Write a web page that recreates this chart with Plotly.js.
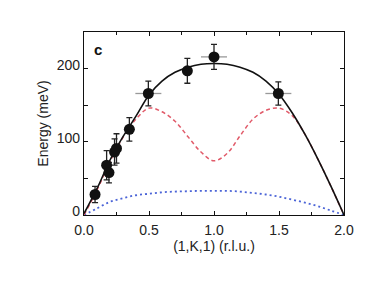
<!DOCTYPE html>
<html><head><meta charset="utf-8">
<script src="https://cdn.plot.ly/plotly-3.0.1.min.js"></script>
<style>body{margin:0;background:#fff}#plot{width:388px;height:291px}</style>
</head><body><div id="plot"></div>
<script>
// Data points
const ptK   = [0.085, 0.174, 0.192, 0.235, 0.25, 0.349, 0.495, 0.795, 1.0, 1.495];
const ptE   = [28, 68, 58, 86, 91, 117, 166, 197, 216, 166];
const ptErr = [11, 20, 14, 18, 20, 16, 17, 17, 17, 16];
const ptXErr= [0, 0, 0, 0, 0, 0, 0.1, 0, 0.1, 0.1];

// Curves
const curveK   = [0,0.1,0.2,0.3,0.4,0.5,0.6,0.7,0.8,0.9,1.0,1.1,1.2,1.3,1.4,1.5,1.6,1.7,1.8,1.9,2.0];
const solidE   = [2,36,75,107,135,164,183,195,202,206,207,206,202,195,183,165,140,110,76,39,0];
const dashedE  = [0,34,73,106,131,146,141,128,107,86,74,84,108,131,143,146,136,110,76,39,0];
const dottedE  = [0,9,18,23,27,29,31,32,32.5,33,33,33,32,30,28,25,21,17,12,6,0];

const yTickVals = [0,50,100,150,200];
const yTickText = ['0','','100','','200'];
const xTickVals = [0,0.5,1.0,1.5,2.0];
const xTickText = ['0.0','0.5','1.0','1.5','2.0'];

const traces = [
  {x: curveK, y: dottedE, mode:'lines', line:{color:'rgb(75,100,215)', dash:'2px,3px', width:1.8, shape:'spline'}, hoverinfo:'skip'},
  {x: curveK, y: dashedE, mode:'lines', line:{color:'rgb(225,90,105)', dash:'4px,3px', width:1.5, shape:'spline'}, hoverinfo:'skip'},
  {x: curveK, y: solidE, mode:'lines', line:{color:'#111', width:1.6, shape:'spline'}, hoverinfo:'skip'},
  {x: ptK, y: ptE, mode:'markers', marker:{color:'#111', size:11},
   error_y:{type:'data', array: ptErr, visible:true, color:'#222', thickness:1.3, width:3},
   error_x:{type:'data', array: ptXErr, visible:true, color:'#999', thickness:1.3, width:0}}
];

const layout = {
  width:388, height:291,
  margin:{l:84, r:44, t:32, b:76},
  paper_bgcolor:'#fff', plot_bgcolor:'#fff',
  showlegend:false,
  font:{family:'Liberation Sans, Arial, sans-serif', color:'#222', size:14},
  xaxis:{range:[0,2], tickmode:'array', tickvals:xTickVals, ticktext:xTickText,
    ticks:'inside', ticklen:4, tickcolor:'#111', showline:true, linecolor:'#111', linewidth:1.2,
    mirror:'allticks', showgrid:false, zeroline:false, ticklabelstandoff:2,
    minor:{tickvals:[0.25,0.75,1.25,1.75], ticks:'inside', ticklen:3, tickcolor:'#111'},
    tickfont:{size:14}, title:{text:'(1,K,1) (r.l.u.)', font:{size:14}, standoff:0}},
  yaxis:{range:[0,250], tickmode:'array', tickvals:yTickVals, ticktext:yTickText,
    ticks:'inside', ticklen:4, tickcolor:'#111', showline:true, linecolor:'#111', linewidth:1.2,
    mirror:'allticks', showgrid:false, zeroline:false, ticklabelshift:-4,
    tickfont:{size:14}, title:{text:'Energy (meV)', font:{size:14}, standoff:4}},
  annotations:[{text:'<b>c</b>', xref:'paper', yref:'paper', x:0.03, y:0.905, showarrow:false,
    xanchor:'left', yanchor:'middle', font:{size:15, color:'#111'}}]
};
Plotly.newPlot('plot', traces, layout, {staticPlot:true, displayModeBar:false});
</script></body></html>
